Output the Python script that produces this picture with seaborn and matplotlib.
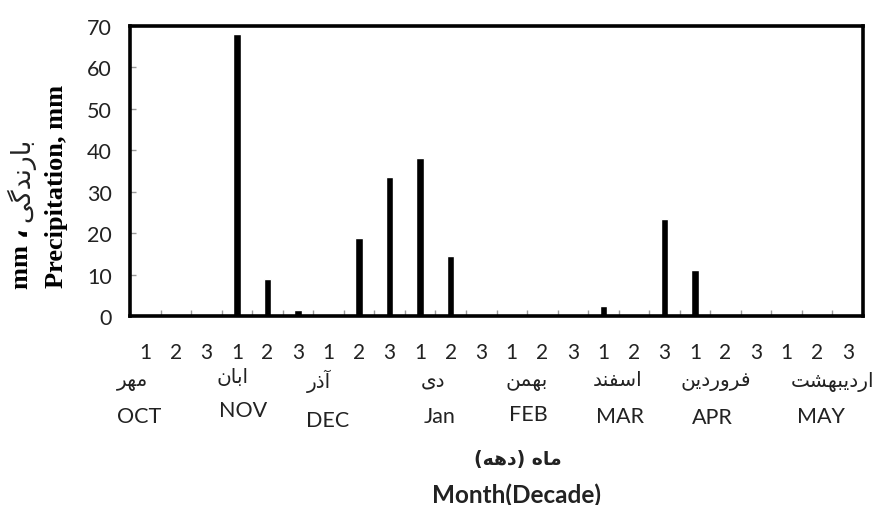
import matplotlib
matplotlib.use("Agg")
import matplotlib.pyplot as plt
import matplotlib.transforms as mtransforms
import numpy as np
import pandas as pd
import seaborn as sns

# ---------------- data ----------------
months_en = ["OCT", "NOV", "DEC", "Jan", "FEB", "MAR", "APR", "MAY"]
months_fa = ["مهر", "ابان", "آذر", "دی", "بهمن", "اسفند", "فروردین", "اردیبهشت"]
decades = ["1", "2", "3"]
precip = [0, 0, 0,
          68.0, 9.0, 1.4,
          0, 18.8, 33.5,
          38.2, 14.6, 0,
          0, 0, 0,
          2.4, 0, 23.4,
          11.2, 0, 0,
          0, 0, 0]
ylabel_en = "Precipitation, mm"
ylabel_fa = "بارندگی"
xlabel_en = "Month(Decade)"
xlabel_fa_words = ["ماه", "دهه"]

# ---------------- layout (text positions, not data) ----------------
en_x = [-0.2, 3.2, 5.98, 9.65, 12.53, 15.54, 18.56, 22.13]
en_y = [417, 411, 421, 417, 415, 417, 418, 417]
fa_x = [-0.43, 2.84, 5.69, 9.42, 12.5, 15.45, 18.69, 22.5]
fa_y = [382, 378, 381, 382, 382, 381, 382, 382]

# ---------------- minimal Arabic shaping for display ----------------
FORMS = {
    "ا": (0xFE8D, 0xFE8E, None, None),
    "آ": (0xFE81, 0xFE82, None, None),
    "ب": (0xFE8F, 0xFE90, 0xFE91, 0xFE92),
    "ت": (0xFE95, 0xFE96, 0xFE97, 0xFE98),
    "د": (0xFEA9, 0xFEAA, None, None),
    "ذ": (0xFEAB, 0xFEAC, None, None),
    "ر": (0xFEAD, 0xFEAE, None, None),
    "س": (0xFEB1, 0xFEB2, 0xFEB3, 0xFEB4),
    "ش": (0xFEB5, 0xFEB6, 0xFEB7, 0xFEB8),
    "ف": (0xFED1, 0xFED2, 0xFED3, 0xFED4),
    "م": (0xFEE1, 0xFEE2, 0xFEE3, 0xFEE4),
    "ن": (0xFEE5, 0xFEE6, 0xFEE7, 0xFEE8),
    "ه": (0xFEE9, 0xFEEA, 0xFEEB, 0xFEEC),
    "و": (0xFEED, 0xFEEE, None, None),
    "ی": (0xFBFC, 0xFBFD, 0xFBFE, 0xFBFF),
    "گ": (0xFB92, 0xFB93, 0xFB94, 0xFB95),
}


def shape(word):
    out = []
    n = len(word)
    for i, ch in enumerate(word):
        f = FORMS.get(ch)
        if f is None:
            out.append(ch)
            continue
        prev = word[i - 1] if i > 0 else None
        nxt = word[i + 1] if i < n - 1 else None
        cp = prev in FORMS and FORMS[prev][2] is not None
        cn = f[2] is not None and nxt in FORMS
        if cp and cn:
            g = f[3]
        elif cp:
            g = f[1]
        elif cn:
            g = f[2]
        else:
            g = f[0]
        out.append(chr(g))
    return "".join(reversed(out))


# ---------------- figure ----------------
sns.set_style("white")
plt.rcParams["font.family"] = ["Lato", "DejaVu Sans"]

W, H = 876, 506
fig = plt.figure(figsize=(W / 100, H / 100), dpi=100)
ax = fig.add_axes([130 / W, 1 - 317 / H, 733 / W, 290 / H])

period = [f"{m}-{d}" for m in months_en for d in decades]
df = pd.DataFrame({"period": period, "precip": precip})
sns.barplot(data=df, x="period", y="precip", order=period, color="black",
            width=0.24, saturation=1, ax=ax, errorbar=None)

ax.set_xlim(-0.5, len(period) - 0.5)
ax.set_ylim(0, 70)
ax.set_yticks(np.arange(0, 71, 10))
ax.set_xticks(np.arange(len(period)))
ax.set_xticklabels(decades * len(months_en))
ax.set_xticks(np.arange(len(period) + 1) - 0.5, minor=True)

txt_col = "#222222"
ax.tick_params(axis="x", which="major", length=0, pad=19, labelsize=15,
               labelcolor=txt_col)
ax.tick_params(axis="x", which="minor", direction="in", length=4, width=1,
               color="#9a9a9a", bottom=True)
ax.tick_params(axis="y", which="major", direction="in", length=4, width=1,
               color="#9a9a9a", pad=13, labelsize=15.5, labelcolor=txt_col,
               left=True)

for sp in ax.spines.values():
    sp.set_visible(True)
    sp.set_color("black")
    sp.set_linewidth(2.6)

# y label (English) + Persian line
ax.set_ylabel(ylabel_en, family="Liberation Serif", fontweight="bold",
              fontsize=19, color="black", va="center")
ax.yaxis.set_label_coords((57 - 130) / 733, (317 - 186) / 290)
fig.text(22 / W, 1 - 259 / H, "mm \u060c", rotation=90, ha="center",
         va="center", family=["Liberation Serif", "DejaVu Sans"],
         fontweight="bold", fontsize=19, color="black")
fig.text(21 / W, 1 - 180 / H, shape(ylabel_fa), rotation=90, ha="center",
         va="center", family="DejaVu Sans", fontsize=19, color=txt_col)

# month names
tr = mtransforms.blended_transform_factory(ax.transData, fig.transFigure)
for x, y, s in zip(fa_x, fa_y, months_fa):
    ax.text(x, 1 - y / H, shape(s), transform=tr, ha="center", va="center",
            family="DejaVu Sans", fontsize=14.5, color=txt_col, clip_on=False)
for x, y, s in zip(en_x, en_y, months_en):
    ax.text(x, 1 - y / H, s, transform=tr, ha="center", va="center",
            family="Lato", fontsize=15.5, color=txt_col, clip_on=False)

# x labels
fa_xlabel = ("(" + shape(xlabel_fa_words[1]) + ") "
             + shape(xlabel_fa_words[0]))
fig.text(518 / W, 1 - 460 / H, fa_xlabel, ha="center", va="center",
         family="DejaVu Sans", fontweight="bold", fontsize=13.5, color=txt_col)
ax.set_xlabel(xlabel_en, family="Lato", fontweight="bold", fontsize=17.5,
              color=txt_col, va="center")
ax.xaxis.set_label_coords((517 - 130) / 733, (317 - 495) / 290)

fig.savefig("out.png", dpi=100)
